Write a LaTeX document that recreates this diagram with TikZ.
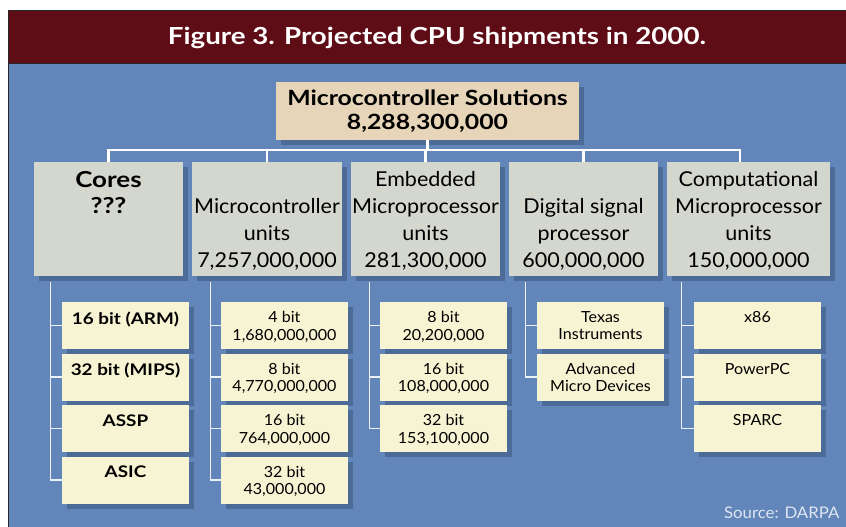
\documentclass[tikz,border=0pt]{standalone}
\usepackage{fontspec}
\setmainfont{Lato}[UprightFeatures={FakeStretch=1.05},BoldFeatures={FakeStretch=1.18}]
\usetikzlibrary{shadows}
\definecolor{bandred}{HTML}{5E0C16}
\definecolor{bgblue}{HTML}{6286B9}
\definecolor{hdrgray}{HTML}{D4D7CD}
\definecolor{rootbeige}{HTML}{E6D5B9}
\definecolor{cream}{HTML}{F6F4D3}
\definecolor{shadowblue}{HTML}{4D6B97}
\definecolor{srccol}{HTML}{DDE6F2}
\begin{document}
\begin{tikzpicture}[x=1pt,y=-1pt,
  boxbase/.style={rectangle,inner sep=0pt,draw=none,
    drop shadow={shadow xshift=5pt,shadow yshift=-5pt,fill=shadowblue,opacity=1}},
  rootbox/.style={boxbase,fill=rootbeige,minimum width=303pt,minimum height=58pt},
  hdrbox/.style={boxbase,fill=hdrgray,minimum height=114pt},
  kidbox/.style={boxbase,fill=cream,minimum width=127pt,minimum height=47pt},
  hdrtext/.style={inner sep=0pt,align=center,font=\fontsize{20.5}{27}\selectfont,anchor=south},
  kidtext/.style={inner sep=0pt,align=center,font=\fontsize{15.3}{17.5}\selectfont,anchor=north},
  kidbold/.style={inner sep=0pt,align=center,font=\fontsize{16}{17.5}\selectfont\bfseries,anchor=north},
  busline/.style={draw=white,line width=2.3pt,line join=miter},
  twig/.style={draw=white!88!bgblue,line width=1.2pt}
]
\useasboundingbox (0,0) rectangle (846,527);
\fill[white] (0,0) rectangle (846,527);
\fill[bandred] (8,11) rectangle (846,64);
\fill[bgblue] (8,64) rectangle (846,527);
\draw[black!85,line width=1pt] (8,527) -- (8,11) -- (846,11);
\draw[black!85,line width=1pt] (8,64) -- (846,64);

\node[text=white,font=\fontsize{23.5}{28}\selectfont\bfseries,anchor=base] (title) at (437,45) {Figure 3. Projected CPU shipments in 2000.};

% root
\node[rootbox] (root) at (427.5,111) {};
\node[inner sep=0pt,align=center,font=\fontsize{21}{24}\selectfont\bfseries,anchor=south] (roott) at ([yshift=7.5pt]root.south) {Microcontroller Solutions\\8,288,300,000};

% headers
\node[hdrbox,minimum width=149pt] (cores) at (108.5,219) {};
\node[hdrbox,minimum width=150pt] (mcu) at (267,219) {};
\node[hdrbox,minimum width=149pt] (emb) at (425.5,219) {};
\node[hdrbox,minimum width=149pt] (dsp) at (583.5,219) {};
\node[hdrbox,minimum width=163pt] (comp) at (748.5,219) {};

\node[inner sep=0pt,align=center,font=\fontsize{22}{26}\selectfont\bfseries,anchor=north] (corest) at ([yshift=-9pt]cores.north) {Cores\\???};
\node[hdrtext] (mcut) at ([yshift=5.5pt]mcu.south) {Microcontroller\\units\\7,257,000,000};
\node[hdrtext] (embt) at ([yshift=5.5pt]emb.south) {Embedded\\Microprocessor\\units\\281,300,000};
\node[hdrtext] (dspt) at ([yshift=5.5pt]dsp.south) {Digital signal\\processor\\600,000,000};
\node[hdrtext] (compt) at ([yshift=5.5pt]comp.south) {Computational\\Microprocessor\\units\\150,000,000};

% children: Cores
\node[kidbox] (a1) at (125.5,325.5) {};
\node[kidbox] (a2) at (125.5,377) {};
\node[kidbox] (a3) at (125.5,428.5) {};
\node[kidbox] (a4) at (125.5,480) {};
\node[kidbold] at ([yshift=-9.5pt]a1.north) {16 bit (ARM)};
\node[kidbold] at ([yshift=-9.5pt]a2.north) {32 bit (MIPS)};
\node[kidbold] at ([yshift=-9.5pt]a3.north) {ASSP};
\node[kidbold] at ([yshift=-9.5pt]a4.north) {ASIC};

% children: MCU
\node[kidbox] (b1) at (284.5,325.5) {};
\node[kidbox] (b2) at (284.5,377) {};
\node[kidbox] (b3) at (284.5,428.5) {};
\node[kidbox] (b4) at (284.5,480) {};
\node[kidtext] at ([yshift=-9.5pt]b1.north) {4 bit\\1,680,000,000};
\node[kidtext] at ([yshift=-9.5pt]b2.north) {8 bit\\4,770,000,000};
\node[kidtext] at ([yshift=-9.5pt]b3.north) {16 bit\\764,000,000};
\node[kidtext] at ([yshift=-9.5pt]b4.north) {32 bit\\43,000,000};

% children: Embedded
\node[kidbox] (c1) at (443.5,325.5) {};
\node[kidbox] (c2) at (443.5,377) {};
\node[kidbox] (c3) at (443.5,428.5) {};
\node[kidtext] at ([yshift=-9.5pt]c1.north) {8 bit\\20,200,000};
\node[kidtext] at ([yshift=-9.5pt]c2.north) {16 bit\\108,000,000};
\node[kidtext] at ([yshift=-9.5pt]c3.north) {32 bit\\153,100,000};

% children: DSP
\node[kidbox] (d1) at (600.5,325.5) {};
\node[kidbox] (d2) at (600.5,377) {};
\node[kidtext] at ([yshift=-9.5pt]d1.north) {Texas\\Instruments};
\node[kidtext] at ([yshift=-9.5pt]d2.north) {Advanced\\Micro Devices};

% children: Computational
\node[kidbox] (e1) at (757.5,325.5) {};
\node[kidbox] (e2) at (757.5,377) {};
\node[kidbox] (e3) at (757.5,428.5) {};
\node[kidtext] at ([yshift=-9.5pt]e1.north) {x86};
\node[kidtext] at ([yshift=-9.5pt]e2.north) {PowerPC};
\node[kidtext] at ([yshift=-9.5pt]e3.north) {SPARC};

% bus connectors
\coordinate (bus) at (0,150);
\coordinate (compin) at ([xshift=-8.5pt]comp.north);
\draw[busline] (root.south) -- (root.south |- bus);
\draw[busline] (cores.north) -- (cores.north |- bus) -- (compin |- bus) -- (compin);
\draw[busline] (mcu.north) -- (mcu.north |- bus);
\draw[busline] (emb.north) -- (emb.north |- bus);
\draw[busline] (dsp.north) -- (dsp.north |- bus);

% child connectors
\coordinate (tA) at ([xshift=17pt,yshift=-6pt]cores.south west);
\coordinate (tB) at ([xshift=19pt,yshift=-6pt]mcu.south west);
\coordinate (tC) at ([xshift=19pt,yshift=-6pt]emb.south west);
\coordinate (tD) at ([xshift=17pt,yshift=-6pt]dsp.south west);
\coordinate (tE) at ([xshift=15pt,yshift=-6pt]comp.south west);
\draw[twig] (tA) |- (a4.west);
\foreach \k in {a1,a2,a3} \draw[twig] (\k.west) -- (\k.west -| tA);
\draw[twig] (tB) |- (b4.west);
\foreach \k in {b1,b2,b3} \draw[twig] (\k.west) -- (\k.west -| tB);
\draw[twig] (tC) |- (c3.west);
\foreach \k in {c1,c2} \draw[twig] (\k.west) -- (\k.west -| tC);
\draw[twig] (tD) |- (d2.west);
\draw[twig] (d1.west) -- (d1.west -| tD);
\draw[twig] (tE) |- (e3.west);
\foreach \k in {e1,e2} \draw[twig] (\k.west) -- (\k.west -| tE);

\node[text=srccol,font=\fontsize{16}{19}\selectfont,anchor=base east] (src) at (843,518) {Source: DARPA};
\end{tikzpicture}
\end{document}
